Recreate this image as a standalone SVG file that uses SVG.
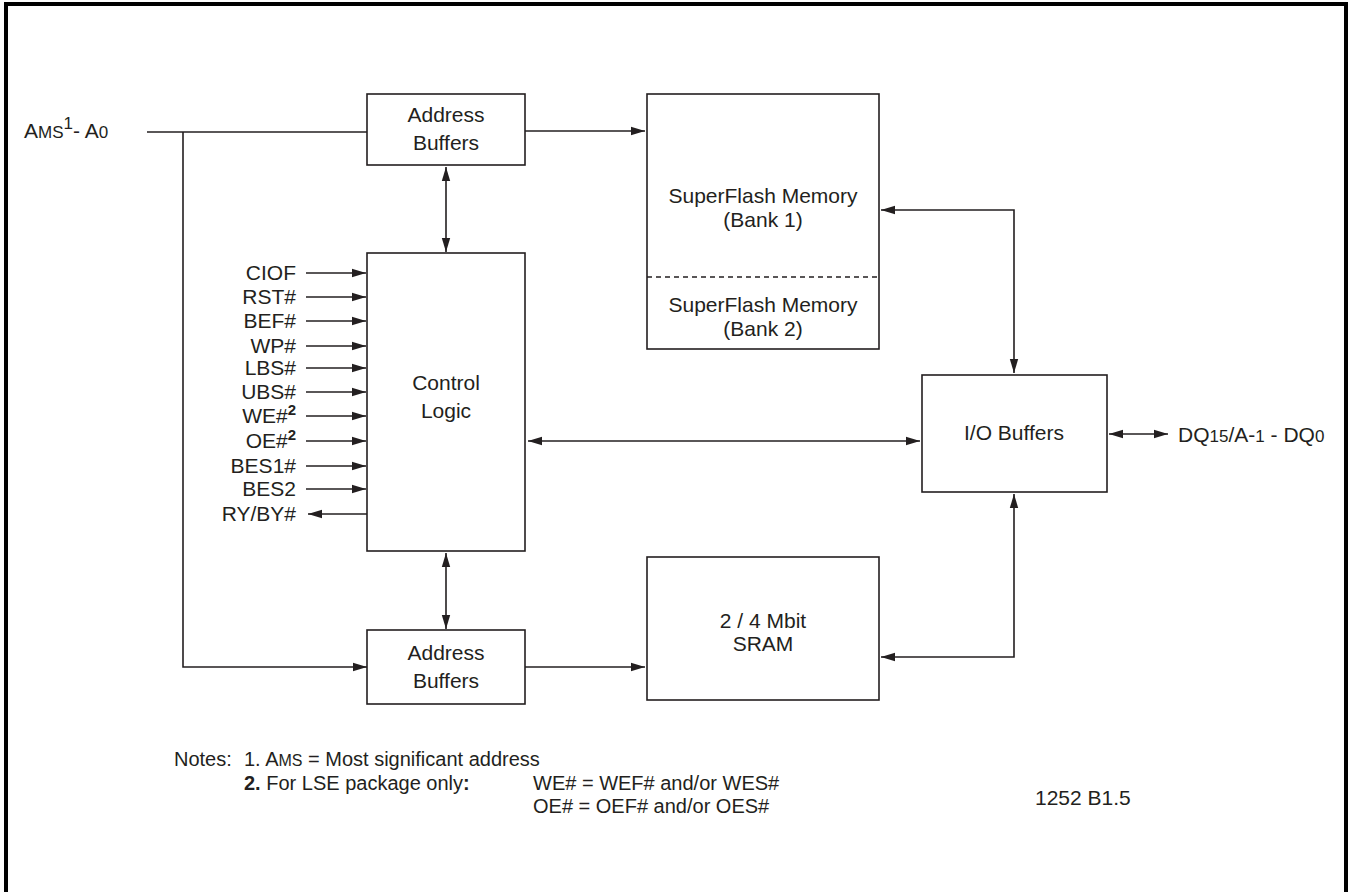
<svg xmlns="http://www.w3.org/2000/svg" width="1350" height="892" viewBox="0 0 1350 892">
<style>
text{font-family:"Liberation Sans",Arial,sans-serif;font-size:21px;fill:#231f20}
.sm{font-size:17px}
.box{fill:#fff;stroke:#231f20;stroke-width:1.6}
.ln{fill:none;stroke:#231f20;stroke-width:1.6}
.io{marker-end:url(#ah)}
.bi{marker-start:url(#ah);marker-end:url(#ah)}
.nt{font-size:20px}
</style>
<defs>
<marker id="ah" markerUnits="userSpaceOnUse" markerWidth="16" markerHeight="10" refX="14" refY="5" orient="auto-start-reverse"><path d="M0,0.8 L14,5 L0,9.2 z" fill="#231f20"/></marker>
</defs>
<rect x="6" y="4" width="1340" height="892" fill="none" stroke="#000" stroke-width="4"/>
<g id="addr-top"><rect class="box" x="367" y="94" width="158" height="71"/><text x="446" y="122" text-anchor="middle">Address</text><text x="446" y="150" text-anchor="middle">Buffers</text></g>
<g id="control"><rect class="box" x="367" y="253" width="158" height="298"/><text x="446" y="390" text-anchor="middle">Control</text><text x="446" y="418" text-anchor="middle">Logic</text></g>
<g id="addr-bot"><rect class="box" x="367" y="630" width="158" height="74"/><text x="446" y="660" text-anchor="middle">Address</text><text x="446" y="688" text-anchor="middle">Buffers</text></g>
<g id="flash"><rect class="box" x="647" y="94" width="232" height="255"/><line x1="647" y1="277" x2="879" y2="277" stroke="#231f20" stroke-width="1.6" stroke-dasharray="5,4"/><text x="763" y="203" text-anchor="middle">SuperFlash Memory</text><text x="763" y="227" text-anchor="middle">(Bank 1)</text><text x="763" y="312" text-anchor="middle">SuperFlash Memory</text><text x="763" y="336" text-anchor="middle">(Bank 2)</text></g>
<g id="sram"><rect class="box" x="647" y="557" width="232" height="143"/><text x="763" y="628" text-anchor="middle">2 / 4 Mbit</text><text x="763" y="651" text-anchor="middle">SRAM</text></g>
<g id="iobuf"><rect class="box" x="922" y="375" width="185" height="117"/><text x="1014" y="440" text-anchor="middle">I/O Buffers</text></g>
<g id="labels">
<text x="24" y="138">A<tspan class="sm">MS</tspan><tspan class="sm" dy="-9">1</tspan><tspan dy="9">- A</tspan><tspan class="sm">0</tspan></text>
<text x="1178" y="442">DQ<tspan class="sm">15</tspan>/A-<tspan class="sm">1</tspan> - DQ<tspan class="sm">0</tspan></text>
<g text-anchor="end">
<text x="296" y="280">CIOF</text>
<text x="296" y="304">RST#</text>
<text x="296" y="328">BEF#</text>
<text x="296" y="353">WP#</text>
<text x="296" y="375">LBS#</text>
<text x="296" y="399">UBS#</text>
<text x="296" y="423">WE#<tspan font-size="15px" font-weight="bold" dy="-8">2</tspan></text>
<text x="296" y="448">OE#<tspan font-size="15px" font-weight="bold" dy="-8">2</tspan></text>
<text x="296" y="473">BES1#</text>
<text x="296" y="496">BES2</text>
<text x="296" y="521">RY/BY#</text>
</g>
<text class="nt" x="174" y="766">Notes:</text>
<text class="nt" x="244" y="766">1. A<tspan font-size="16px">MS</tspan> = Most significant address</text>
<text class="nt" x="244" y="790"><tspan font-weight="bold">2.</tspan> For LSE package only<tspan font-weight="bold">:</tspan></text>
<text class="nt" x="533" y="790">WE# = WEF# and/or WES#</text>
<text class="nt" x="533" y="813">OE# = OEF# and/or OES#</text>
<text x="1035" y="805" font-size="14px">1252 B1.5</text>
</g>
<g id="connectors">
<line class="ln" x1="147" y1="132" x2="367" y2="132"/>
<polyline class="ln io" points="183,132 183,667 367,667"/>
<line class="ln io" x1="525" y1="131" x2="645" y2="131"/>
<line class="ln bi" x1="446" y1="167" x2="446" y2="252"/>
<line class="ln bi" x1="446" y1="553" x2="446" y2="629"/>
<line class="ln io" x1="525" y1="667" x2="645" y2="667"/>
<polyline class="ln bi" points="881,210 1014,210 1014,373"/>
<polyline class="ln bi" points="1014,494 1014,657 881,657"/>
<line class="ln bi" x1="528" y1="441" x2="920" y2="441"/>
<line class="ln bi" x1="1109" y1="434" x2="1168" y2="434"/>
<line class="ln io" x1="306" y1="273" x2="366" y2="273"/>
<line class="ln io" x1="306" y1="297" x2="366" y2="297"/>
<line class="ln io" x1="306" y1="321" x2="366" y2="321"/>
<line class="ln io" x1="306" y1="346" x2="366" y2="346"/>
<line class="ln io" x1="306" y1="368" x2="366" y2="368"/>
<line class="ln io" x1="306" y1="392" x2="366" y2="392"/>
<line class="ln io" x1="306" y1="416" x2="366" y2="416"/>
<line class="ln io" x1="306" y1="441" x2="366" y2="441"/>
<line class="ln io" x1="306" y1="466" x2="366" y2="466"/>
<line class="ln io" x1="306" y1="489" x2="366" y2="489"/>
<line class="ln io" x1="367" y1="514" x2="308" y2="514"/>
</g>
</svg>
